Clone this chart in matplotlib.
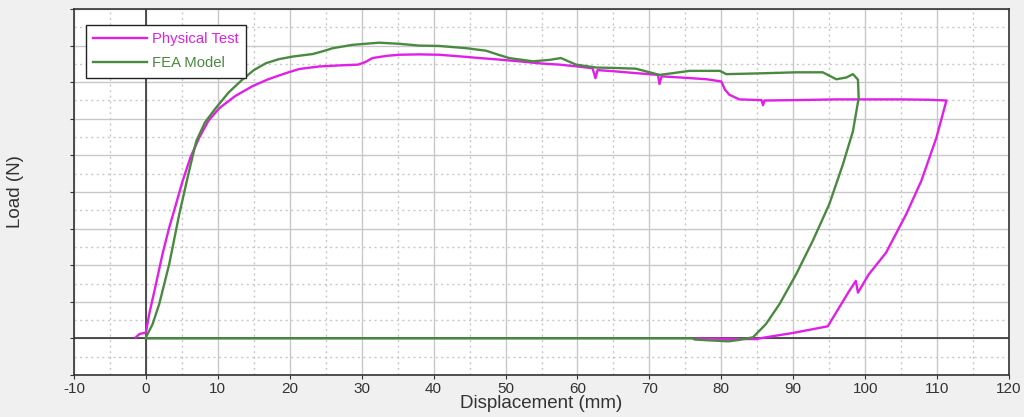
import numpy as np
import matplotlib.pyplot as plt
from matplotlib.ticker import MultipleLocator, NullFormatter

# Load-displacement curves (load in grid units, no labels on y)
test_disp = [-1.4, -0.9, -0.2, 0.0, 0.46, 1.3, 2.3, 3.2, 4.17, 5.1, 6.2, 7.4, 8.7,
             10.2, 12.4, 14.8, 17.0, 19.5, 21.3, 24.1, 27.0, 29.5, 30.5, 31.5, 33.5,
             35.2, 38.0, 40.8, 44.0, 46.4, 49.0, 51.9, 55.0, 57.5, 60.0, 62.1, 62.5,
             62.8, 65.0, 68.0, 71.2, 71.4, 71.7, 75.0, 78.0, 80.0, 80.5, 81.1, 82.5,
             85.6, 85.8, 86.0, 90.0, 96.0, 100.0, 105.0, 108.9, 111.3, 109.9, 107.8,
             105.7, 102.9, 100.5, 99.0, 98.7, 97.8, 94.8, 90.0, 86.2, 84.8, 80.0, 76.5]
test_load = [0.03, 0.12, 0.15, 0.16, 0.67, 1.4, 2.3, 3.0, 3.66, 4.3, 4.95, 5.48, 5.95,
             6.29, 6.62, 6.89, 7.08, 7.25, 7.36, 7.43, 7.46, 7.48, 7.55, 7.66, 7.72,
             7.75, 7.76, 7.75, 7.7, 7.66, 7.62, 7.57, 7.51, 7.48, 7.43, 7.38, 7.11,
             7.33, 7.3, 7.25, 7.2, 6.95, 7.16, 7.12, 7.08, 7.02, 6.8, 6.66, 6.53,
             6.51, 6.37, 6.5, 6.51, 6.53, 6.53, 6.53, 6.52, 6.5, 5.48, 4.3,
             3.39, 2.34, 1.75, 1.25, 1.57, 1.3, 0.33, 0.15, 0.03, -0.02, -0.01, 0.0]

fea_disp = [0.0, 0.93, 1.85, 2.5, 3.24, 4.63, 6.0, 7.0, 8.2, 9.7, 11.5, 13.4, 15.0,
            16.7, 18.5, 20.4, 23.2, 24.5, 26.0, 28.7, 32.4, 35.2, 38.0, 40.8, 44.5,
            47.3, 49.0, 50.5, 53.8, 56.1, 57.7, 59.8, 62.6, 65.0, 68.1, 71.4, 73.0,
            75.6, 79.8, 80.7, 85.0, 90.4, 94.1, 96.0, 97.4, 98.3, 99.0, 99.1, 98.3,
            96.9, 95.0, 92.7, 90.4, 88.1, 86.2, 84.4, 82.5, 81.0, 78.0, 76.3, 76.0, 0.0]
fea_load = [0.03, 0.39, 0.94, 1.45, 2.03, 3.39, 4.57, 5.39, 5.9, 6.29, 6.72, 7.07, 7.33,
            7.52, 7.63, 7.7, 7.77, 7.84, 7.93, 8.02, 8.08, 8.05, 8.0, 7.99, 7.93,
            7.86, 7.75, 7.66, 7.57, 7.61, 7.66, 7.48, 7.4, 7.39, 7.37, 7.2, 7.24,
            7.31, 7.31, 7.22, 7.24, 7.27, 7.27, 7.08, 7.13, 7.22, 7.07, 6.57, 5.66,
            4.75, 3.66, 2.66, 1.75, 0.94, 0.39, 0.03, -0.04, -0.08, -0.05, -0.03, 0.0, 0.0]

x_ticks = list(range(-10, 121, 10))

bg = '#f0f0f0'
plt.rcParams['font.family'] = ['Liberation Sans', 'DejaVu Sans']
plt.rcParams['axes.unicode_minus'] = False

fig = plt.figure(figsize=(10.24, 4.17), dpi=100, facecolor=bg)
ax = fig.add_axes([74/1024, 1 - 375/417, 935/1024, 366/417])
ax.set_facecolor('white')

ax.set_xlim(-10, 120)
ax.set_ylim(-1, 9)
ax.set_xticks(x_ticks)
ax.xaxis.set_minor_locator(MultipleLocator(5))
ax.yaxis.set_major_locator(MultipleLocator(1))
ax.yaxis.set_minor_locator(MultipleLocator(0.5))
ax.yaxis.set_major_formatter(NullFormatter())

ax.grid(True, which='major', color='#c8c8c8', lw=1.0, ls='-')
ax.grid(True, which='minor', color='#c8c8c8', lw=1.0, ls=(0, (1.5, 2.5)))
ax.set_axisbelow(True)

ax.axhline(0, color='#333333', lw=1.2, zorder=1.5)
ax.axvline(0, color='#333333', lw=1.2, zorder=1.5)

ax.plot(test_disp, test_load, color='#e020e6', lw=1.7, label='Physical Test', zorder=3)
ax.plot(fea_disp, fea_load, color='#4a8a40', lw=1.7, label='FEA Model', zorder=3)

for s in ax.spines.values():
    s.set_color('#333333')
    s.set_linewidth(1.2)
ax.tick_params(which='major', direction='out', length=3, color='#333333',
               labelsize=11, labelcolor='#333333', pad=2)
ax.tick_params(which='minor', length=0)

ax.set_xlabel('Displacement (mm)', fontsize=13.5, color='#333333', labelpad=-1)
ax.set_ylabel('Load (N)', fontsize=13.5, color='#333333')
ax.yaxis.set_label_coords(-0.053, 0.5)

leg = ax.legend(loc='upper left', bbox_to_anchor=(12/935, 1 - 16/366), fancybox=False,
                framealpha=1, edgecolor='#222222', fontsize=10.7, handlelength=3.6,
                borderpad=0.5, labelspacing=0.65, handletextpad=0.35, borderaxespad=0)
leg.get_frame().set_linewidth(1.0)
for txt, ln in zip(leg.get_texts(), leg.get_lines()):
    txt.set_color(ln.get_color())

fig.savefig('out.png', dpi=100, facecolor=bg)
